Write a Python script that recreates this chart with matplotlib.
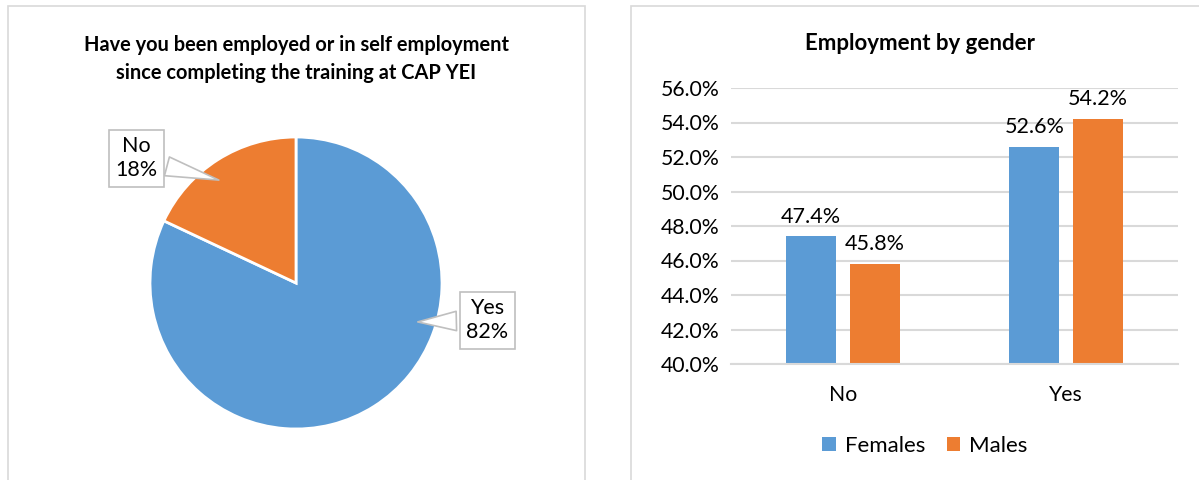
import matplotlib.pyplot as plt
from matplotlib.patches import Rectangle
from matplotlib.ticker import PercentFormatter

plt.rcParams["font.family"] = ["Lato", "DejaVu Sans"]

# overall answer split
pie_labels = ["Yes", "No"]
pie_shares = [82, 18]

# answer split by gender
categories = ["No", "Yes"]
females = [47.4, 52.6]
males = [45.8, 54.2]

BLUE = "#5b9bd5"
ORANGE = "#ed7d31"
GRID = "#d9d9d9"

W, H = 1199, 480
fig = plt.figure(figsize=(W / 100, H / 100), dpi=100)


def px_box(x0, y0, x1, y1):
    # pixel box (top-left origin) -> figure fraction rect
    return [x0 / W, 1 - y1 / H, (x1 - x0) / W, (y1 - y0) / H]


# panel frames
for x0, y0, x1, y1 in [(8, 6, 585, 490), (631, 6, 1210, 490)]:
    l, b, w, h = px_box(x0, y0, x1, y1)
    fig.add_artist(Rectangle((l, b), w, h, transform=fig.transFigure,
                             fill=False, ec=GRID, lw=1.2))

# ---- pie ----
cx, cy, r = 296, 283, 146
ax1 = fig.add_axes(px_box(cx - r, cy - r, cx + r, cy + r))
wedges, _ = ax1.pie(pie_shares, colors=[BLUE, ORANGE], startangle=90,
                    counterclock=False, radius=1,
                    wedgeprops=dict(edgecolor="white", linewidth=2))
ax1.set_xlim(-1, 1)
ax1.set_ylim(-1, 1)
ax1.set_aspect("equal")
ax1.axis("off")

callouts = {
    "Yes": ((0.815, -0.267), (1.31, -0.255)),
    "No": ((-0.51, 0.70), (-1.095, 0.855)),
}
for lab, share in zip(pie_labels, pie_shares):
    tip, box = callouts[lab]
    ax1.annotate(f"{lab}\n{share}%", xy=tip, xytext=box,
                 ha="center", va="center", fontsize=15.5, linespacing=1.25,
                 annotation_clip=False,
                 bbox=dict(boxstyle="square,pad=0.3", fc="white", ec="#bfbfbf", lw=1.2),
                 arrowprops=dict(arrowstyle="wedge,tail_width=0.9,shrink_factor=0.5",
                                 fc="white", ec="#bfbfbf", lw=1.2))

fig.text(296 / W, 1 - 59 / H,
         "Have you been employed or in self employment\nsince completing the training at CAP YEI",
         ha="center", va="center", fontsize=14.4, fontweight="bold", linespacing=1.45)

# ---- bars ----
ax2 = fig.add_axes(px_box(731, 88, 1178, 364))
bw = 0.224
off = 0.143
xs = range(len(categories))
b1 = ax2.bar([x - off for x in xs], females, bw, color=BLUE, label="Females")
b2 = ax2.bar([x + off for x in xs], males, bw, color=ORANGE, label="Males")
ax2.set_ylim(40, 56)
ax2.set_xlim(-0.5, 1.5)
ax2.set_yticks(range(40, 57, 2))
ax2.yaxis.set_major_formatter(PercentFormatter(decimals=1))
ax2.set_xticks(list(xs))
ax2.set_xticklabels(categories)
ax2.tick_params(length=0, labelsize=15.3, pad=8)
ax2.tick_params(axis="x", pad=15)
ax2.grid(axis="y", color=GRID, lw=1.5)
ax2.set_axisbelow(True)
for s in ["top", "right", "left"]:
    ax2.spines[s].set_visible(False)
ax2.spines["bottom"].set_color(GRID)
ax2.spines["bottom"].set_linewidth(1.5)
for bars in (b1, b2):
    ax2.bar_label(bars, labels=[f"{v:.1f}%" for v in bars.datavalues],
                  padding=7, fontsize=15.5)

fig.text(920 / W, 1 - 44 / H, "Employment by gender",
         ha="center", va="center", fontsize=16, fontweight="bold")
fig.legend(handles=[b1, b2], loc="center", bbox_to_anchor=(925 / W, 1 - 446 / H),
           ncol=2, frameon=False, fontsize=16, handlelength=0.6, handleheight=0.6,
           handletextpad=0.4, columnspacing=1.0)

fig.savefig("out.png", dpi=100)
